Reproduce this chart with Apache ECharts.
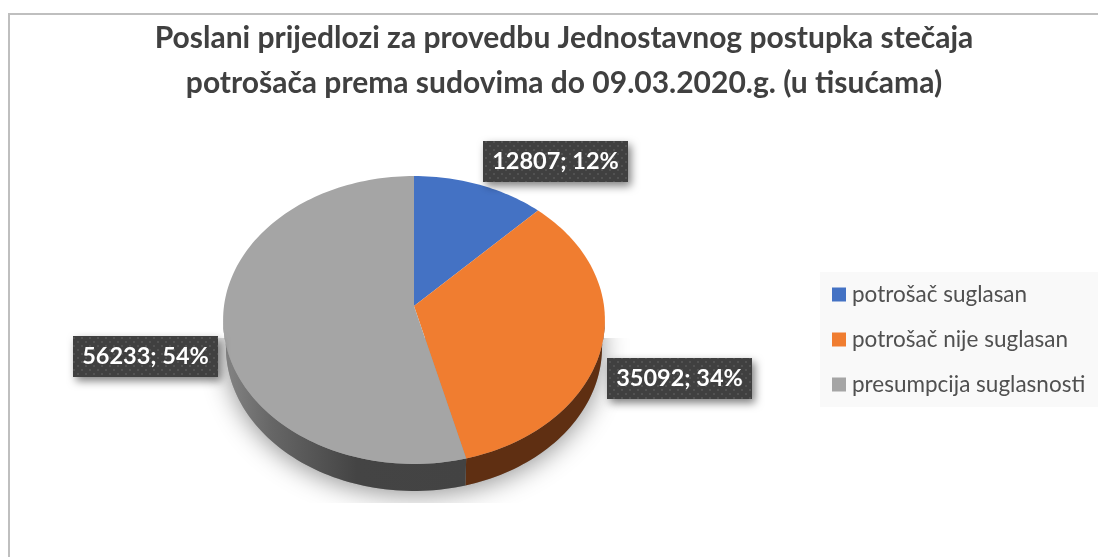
<!DOCTYPE html>
<html>
<head>
<meta charset="utf-8">
<script src="https://cdn.jsdelivr.net/npm/echarts@6/dist/echarts.min.js"></script>
<style>
  html, body { margin: 0; padding: 0; background: #fff; }
  #main { width: 1098px; height: 557px; }
</style>
</head>
<body>
<div id="main"></div>
<script>
const titleText = "Poslani prijedlozi za provedbu Jednostavnog postupka stečaja\npotrošača prema sudovima do 09.03.2020.g. (u tisućama)";
const categories = ["potrošač suglasan", "potrošač nije suglasan", "presumpcija suglasnosti"];
const values = [12807, 35092, 56233];

const colors = ["#4472c4", "#f07d30", "#a5a5a5"];
const fontFamily = "Lato, 'Open Sans', sans-serif";
const total = values.reduce((a, b) => a + b, 0);

// pie geometry, the reference is a tilted disc so the apex is not the ellipse centre
const apexX = 414, apexY = 306;
const scaleX = 190, scaleY = 142.6, persp = 0.0972;
const depth = 27, bottomShrink = 0.985;
const wallFrom = 95.6, wallTo = 264.4;

// label box top left corners, one per slice
const labelBoxes = [[483, 141], [607, 358], [73, 336]];
const boxW = 145, boxH = 41;

function rim(deg, bottom) {
  const a = deg * Math.PI / 180;
  const w = 1 + persp * Math.cos(a);
  const x = scaleX * Math.sin(a) / w;
  const y = -scaleY * Math.cos(a) / w;
  return bottom
    ? [apexX + x * bottomShrink, apexY + y + depth]
    : [apexX + x, apexY + y];
}

function arc(from, to, bottom) {
  const pts = [];
  const n = Math.max(2, Math.ceil((to - from) / 1.5));
  for (let i = 0; i <= n; i++) pts.push(rim(from + (to - from) * i / n, bottom));
  return pts;
}

// dotted fill of the label boxes
const tile = document.createElement("canvas");
tile.width = tile.height = 8;
const tctx = tile.getContext("2d");
tctx.fillStyle = "#404040";
tctx.fillRect(0, 0, 8, 8);
tctx.fillStyle = "#525252";
tctx.fillRect(1, 1, 2, 2);
tctx.fillRect(5, 5, 2, 2);

let running = 0;
const sliceAngles = values.map(v => {
  const start = running / total * 360;
  running += v;
  return [start, running / total * 360];
});

const wallFill = [
  null,
  "#5f2f12",
  {
    type: "linear", x: 0, y: 0, x2: 1, y2: 0,
    colorStops: [
      { offset: 0, color: "#858585" },
      { offset: 0.2, color: "#666666" },
      { offset: 0.55, color: "#444444" },
      { offset: 1, color: "#434343" },
    ],
  },
];

function renderSlice(idx) {
  return function () {
    const [start, end] = sliceAngles[idx];
    const children = [];
    const wa = Math.max(start, wallFrom), wb = Math.min(end, wallTo);
    if (wb > wa) {
      children.push({
        type: "polygon",
        shape: { points: arc(wa, wb, false).concat(arc(wa, wb, true).reverse()) },
        style: { fill: wallFill[idx] },
      });
    }
    children.push({
      type: "polygon",
      shape: { points: [[apexX, apexY]].concat(arc(start, end, false)) },
      style: { fill: colors[idx] },
    });
    const [bx, by] = labelBoxes[idx];
    children.push({
      type: "rect",
      z2: 10,
      shape: { x: bx, y: by, width: boxW, height: boxH },
      style: {
        fill: { image: tile, repeat: "repeat" },
        shadowColor: "rgba(0,0,0,0.5)", shadowBlur: 8, shadowOffsetX: 3, shadowOffsetY: 4,
      },
    });
    const pct = Math.round(values[idx] / total * 100);
    children.push({
      type: "text",
      z2: 11,
      style: {
        text: values[idx] + "; " + pct + "%",
        x: bx + boxW / 2, y: by + boxH / 2,
        align: "center", verticalAlign: "middle",
        fill: "#fff", font: "bold 23.5px " + fontFamily,
      },
    });
    return { type: "group", children };
  };
}

const myChart = echarts.init(document.getElementById("main"), null, { renderer: "canvas" });

const option = {
  animation: false,
  backgroundColor: "#fff",
  title: {
    text: titleText,
    left: 559,
    top: 11,
    textAlign: "center",
    textStyle: {
      fontFamily, fontWeight: "bold", fontSize: 30, lineHeight: 45, color: "#404040",
    },
  },
  legend: {
    data: categories,
    orient: "vertical",
    left: 820,
    top: 272,
    padding: [11, 14, 11, 12],
    backgroundColor: "#f9f9f9",
    icon: "rect",
    itemWidth: 14,
    itemHeight: 14,
    itemGap: 22,
    selectedMode: false,
    textStyle: { fontFamily, fontSize: 22.5, color: "#505050", padding: [0, 0, 0, 1] },
  },
  graphic: [
    {
      type: "rect",
      z: -1,
      shape: { x: 9, y: 14, width: 1200, height: 700 },
      style: { fill: "none", stroke: "#bfbfbf", lineWidth: 2 },
    },
  ],
  series: [
    {
      type: "custom",
      name: "shadow",
      coordinateSystem: "none",
      z: 1,
      silent: true,
      data: [[0]],
      renderItem: function () {
        return {
          type: "polygon",
          shape: { points: arc(0, 360, true) },
          style: {
            fill: "#999",
            shadowColor: "rgba(0,0,0,0.42)", shadowBlur: 26, shadowOffsetY: 4,
          },
          clipPath: { type: "rect", shape: { x: 200, y: 338, width: 430, height: 165 } },
        };
      },
    },
  ].concat(categories.map((name, idx) => ({
    type: "custom",
    name,
    coordinateSystem: "none",
    z: 2,
    silent: true,
    itemStyle: { color: colors[idx] },
    data: [[values[idx]]],
    renderItem: renderSlice(idx),
  }))),
};

myChart.setOption(option);
</script>
</body>
</html>
